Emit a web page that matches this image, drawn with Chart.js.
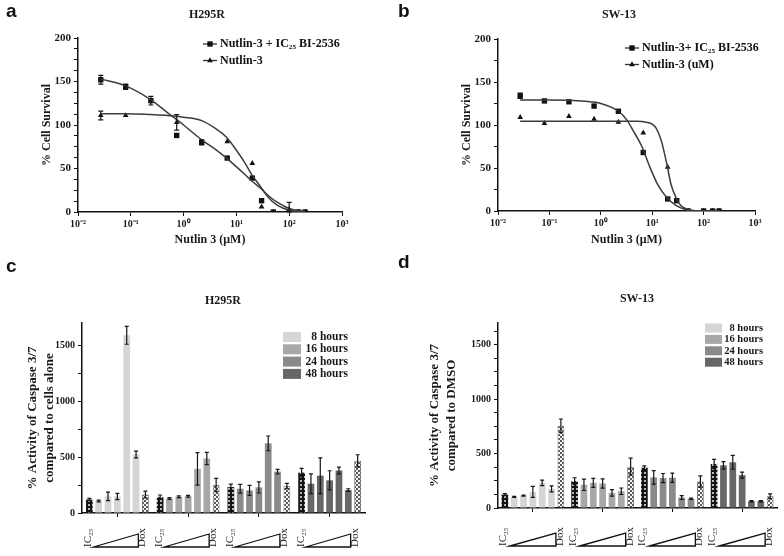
<!DOCTYPE html>
<html>
<head>
<meta charset="utf-8">
<title>Nutlin-3 survival and caspase 3/7 activity</title>
<script src="https://cdn.jsdelivr.net/npm/chart.js@4.4.1/dist/chart.umd.min.js"></script>
<style>
  body { margin: 0; background: #fff; }
  #fig { position: relative; width: 784px; height: 556px; overflow: hidden; background: #fff; }
  #fig canvas { position: absolute; }
  .tag { position: absolute; font: bold 19px "Liberation Sans", Arial, sans-serif; line-height: 1; color: #111; }
</style>
</head>
<body>
<div id="fig">
  <canvas id="survH295" width="392" height="260" style="left:0;top:0"></canvas>
  <canvas id="survSW13" width="392" height="260" style="left:392px;top:0"></canvas>
  <canvas id="caspH295" width="392" height="276" style="left:0;top:280px"></canvas>
  <canvas id="caspSW13" width="392" height="276" style="left:392px;top:280px"></canvas>
  <div class="tag" style="left:6px;top:1px">a</div>
  <div class="tag" style="left:398px;top:1px">b</div>
  <div class="tag" style="left:6px;top:256px">c</div>
  <div class="tag" style="left:398px;top:252px">d</div>
</div>
<script>
// concentrations (µM) and log axis ticks
const concentrations = [0.027, 0.08, 0.24, 0.74, 2.2, 6.7, 20, 30, 50, 100, 150, 200];
const decadeTicks = [0.01, 0.1, 1, 10, 100, 1000];
const decadeLabels = ["10⁻²", "10⁻¹", "10⁰", "10¹", "10²", "10³"];

// H295R survival
const h295Combo = [152, 144, 128, 88, 80, 62, 39, 13, 0, 0, 0, 0];
const h295ComboErr = [5, 3, 5, 0, 3, 0, 0, 0, 0, 0, 0, 0];
const h295Nutlin = [111, 111, null, 103, null, 81, 56, 6, 0, 3, 0, 0];
const h295NutlinErr = [5, 0, 0, 9, 0, 0, 0, 0, 0, 8, 0, 0];
const h295FitX = [0.027, 0.08, 0.24, 0.5, 1, 2.2, 4, 6.5, 10, 14, 20, 28, 40, 60, 100, 200];
const h295ComboFit = [153, 145, 129, 114, 100, 83, 72, 62, 52, 44, 35, 28, 19, 11, 4, 0.5];
const h295NutlinFit = [113, 113, 112, 111, 109, 105, 96, 86, 71, 58, 42, 30, 17, 7.5, 2, 0];

// SW-13 survival
const sw13Combo = [134, 128, 127, 122, 116, 68, 14, 12, 0, 0, 0, 0];
const sw13ComboErr = [3, 0, 0, 0, 2, 0, 0, 0, 0, 0, 0, 0];
const sw13Nutlin = [109, 102, 110, 107, 103.5, 91, 51, null, 0, 0, 0, 0];
const sw13NutlinErr = [0, 0, 0, 0, 0, 0, 0, 0, 0, 0, 0, 0];
const sw13ComboFitX = [0.027, 0.1, 0.5, 1, 2.2, 3.2, 4.2, 6.3, 9, 13, 19, 29, 45, 70, 200];
const sw13ComboFit = [129, 129, 127.5, 125, 116, 106, 94, 75, 51, 30, 16, 6.5, 1.5, 0, 0];
const sw13NutlinFitX = [0.027, 1, 5, 8, 10, 12, 15, 17.3, 20, 23, 28.8, 36, 52, 100, 200];
const sw13NutlinFit = [104.5, 104.5, 104.3, 103, 101, 96, 82, 67, 50, 32, 16, 6.5, 1.5, 0, 0];

// y-axis tick marks (labels only on the round values)
const survivalTicksFine = [0, 12.5, 25, 37.5, 50, 62.5, 75, 87.5, 100, 112.5, 125, 137.5, 150, 162.5, 175, 187.5, 200];
const survivalTicks = [0, 25, 50, 75, 100, 125, 150, 175, 200];
const caspaseTicks = [0, 250, 500, 750, 1000, 1250, 1500];
const caspaseTicksFine = [0, 125, 250, 375, 500, 625, 750, 875, 1000, 1125, 1250, 1375, 1500, 1625];

// caspase 3/7 activity: each group = IC25, 5 increasing doses, Dox
const hourLabels = ["8 hours", "16 hours", "24 hours", "48 hours"];
const barSlots = ["IC25", "dose 1", "dose 2", "dose 3", "dose 4", "dose 5", "Dox"];
const timeColors = ["#d5d5d5", "#a8a8a8", "#8a8a8a", "#676767"];

const h295Casp8 = [120, 108, 148, 148, 1590, 524, 166];
const h295Casp16 = [141, 130, 145, 150, 395, 488, 250];
const h295Casp24 = [232, 217, 202, 229, 623, 370, 241];
const h295Casp48 = [361, 262, 334, 292, 380, 205, 467];
const h295Err8 = [10, 8, 38, 28, 80, 30, 30];
const h295Err16 = [20, 8, 8, 8, 145, 55, 60];
const h295Err24 = [27, 40, 45, 50, 66, 21, 24];
const h295Err48 = [38, 88, 160, 86, 30, 12, 54];

const sw13Casp8 = [123, 102, 114, 148, 231, 176, 756];
const sw13Casp16 = [247, 213, 231, 225, 139, 154, 380];
const sw13Casp24 = [370, 281, 275, 278, 96, 86, 244];
const sw13Casp48 = [404, 392, 420, 302, 62, 62, 108];
const sw13Err8 = [10, 5, 5, 50, 25, 28, 62];
const sw13Err16 = [31, 52, 42, 43, 30, 30, 78];
const sw13Err24 = [17, 62, 42, 43, 18, 6, 52];
const sw13Err48 = [43, 34, 63, 27, 5, 5, 22];

const SERIF = '"Liberation Serif", "Times New Roman", serif';
Chart.defaults.font.family = SERIF;
Chart.defaults.color = "#1a1a1a";
Chart.defaults.animation = false;

function makePattern(bg, fg, cells) {
    const c = document.createElement("canvas");
    c.width = 4; c.height = 4;
    const g = c.getContext("2d");
    g.fillStyle = bg; g.fillRect(0, 0, 4, 4);
    g.fillStyle = fg;
    cells.forEach(([x, y]) => g.fillRect(x, y, 2, 2));
    return g.createPattern(c, "repeat");
}
const darkChecker = makePattern("#141414", "#b8b8b8", [[0, 0]]);
const lightChecker = makePattern("#f6f6f6", "#5a5a5a", [[0, 0], [2, 2]]);

// ---- plugins ----
const errorBars = {
    id: "errorBars",
    afterDatasetsDraw(chart) {
        const { ctx } = chart;
        const y = chart.scales.y;
        chart.data.datasets.forEach((ds, i) => {
            if (!ds.errors) return;
            const meta = chart.getDatasetMeta(i);
            ctx.save();
            ctx.strokeStyle = "#161616";
            ctx.lineWidth = 1.2;
            meta.data.forEach((el, j) => {
                const err = ds.errors[j];
                if (!err) return;
                const raw = ds.data[j];
                const v = typeof raw === "object" ? raw.y : raw;
                const top = y.getPixelForValue(v + err);
                const bot = y.getPixelForValue(Math.max(v - err, 0));
                const cap = ds.capWidth || 2.5;
                ctx.beginPath();
                ctx.moveTo(el.x, top); ctx.lineTo(el.x, bot);
                ctx.moveTo(el.x - cap, top); ctx.lineTo(el.x + cap, top);
                ctx.moveTo(el.x - cap, bot); ctx.lineTo(el.x + cap, bot);
                ctx.stroke();
            });
            ctx.restore();
        });
    }
};

const panelText = {
    id: "panelText",
    afterDraw(chart, args, opts) {
        const { ctx } = chart;
        ctx.save();
        ctx.fillStyle = "#1a1a1a";
        ctx.textAlign = "center";
        ctx.textBaseline = "middle";
        ctx.font = "bold 12px " + SERIF;
        ctx.fillText(opts.text, opts.x, opts.y);
        ctx.restore();
    }
};

const curveLegend = {
    id: "curveLegend",
    afterDraw(chart, args, opts) {
        if (!opts.items) return;
        const { ctx } = chart;
        ctx.save();
        opts.items.forEach((it, k) => {
            const y = opts.y + k * opts.gap;
            ctx.strokeStyle = "#333"; ctx.lineWidth = 1.3;
            ctx.beginPath(); ctx.moveTo(opts.x - 7, y); ctx.lineTo(opts.x + 7, y); ctx.stroke();
            ctx.fillStyle = "#111";
            Chart.helpers.drawPoint(ctx, { pointStyle: it.style, radius: it.radius, rotation: 0, borderWidth: 0 }, opts.x, y);
            ctx.font = "bold 12px " + SERIF;
            ctx.textAlign = "left"; ctx.textBaseline = "middle";
            ctx.fillText(it.label, opts.textX, y);
        });
        ctx.restore();
    }
};

const boxLegend = {
    id: "boxLegend",
    afterDraw(chart, args, opts) {
        if (!opts.labels) return;
        const { ctx } = chart;
        ctx.save();
        opts.labels.forEach((lab, k) => {
            const y = opts.y + k * opts.gap;
            ctx.fillStyle = opts.colors[k];
            ctx.fillRect(opts.x, y - opts.boxH / 2, opts.boxW, opts.boxH);
            ctx.fillStyle = "#1a1a1a";
            ctx.font = "bold " + opts.fontSize + "px " + SERIF;
            ctx.textAlign = "right"; ctx.textBaseline = "middle";
            ctx.fillText(lab, opts.textRight, y);
        });
        ctx.restore();
    }
};

const doseWedges = {
    id: "doseWedges",
    afterDraw(chart, args, opts) {
        if (!opts.base) return;
        const { ctx } = chart;
        const x = chart.scales.x;
        const axisY = chart.chartArea.bottom;
        const baseY = axisY + opts.base;
        ctx.save();
        chart.data.labels.forEach((_, i) => {
            const cx = x.getPixelForValue(i);
            ctx.strokeStyle = "#111"; ctx.lineWidth = 1.3;
            ctx.beginPath();
            ctx.moveTo(cx + opts.left, baseY);
            ctx.lineTo(cx + opts.right, baseY - opts.rise);
            ctx.lineTo(cx + opts.right, baseY);
            ctx.closePath();
            ctx.stroke();
            ctx.fillStyle = "#1a1a1a";
            ctx.font = "11px " + SERIF;
            ctx.textAlign = "left"; ctx.textBaseline = "middle";
            [[opts.ic, "IC₂₅"], [opts.dox, "Dox"]].forEach(([dx, t]) => {
                ctx.save();
                ctx.translate(cx + dx, baseY);
                ctx.rotate(-Math.PI / 2);
                ctx.fillText(t, 0, 0);
                ctx.restore();
            });
        });
        ctx.restore();
    }
};

// ---- survival charts ----
function points(xs, ys) {
    const pts = [];
    xs.forEach((x, i) => { if (ys[i] !== null) pts.push({ x, y: ys[i] }); });
    return pts;
}
function errorsFor(ys, errs) {
    return errs.filter((e, i) => ys[i] !== null);
}
function fitLine(xs, ys) {
    return {
        type: "line", data: points(xs, ys), borderColor: "#3c3c3c", borderWidth: 1.5,
        pointRadius: 0, cubicInterpolationMode: "monotone", fill: false
    };
}
function markers(ys, errs, style, r) {
    return {
        data: points(concentrations, ys), errors: errorsFor(ys, errs),
        pointStyle: style, pointRadius: r, backgroundColor: "#111", borderWidth: 0
    };
}

function axisLine() {
    return { display: true, color: "#111", width: 1.5 };
}
function tickGrid() {
    return { drawOnChartArea: false, drawTicks: true, tickLength: 4, color: "#111", lineWidth: 1 };
}
function fixedTicks(values) {
    return s => { s.ticks = values.map(v => ({ value: v })); };
}

function survivalChart(id, c) {
    return new Chart(document.getElementById(id), {
        type: "scatter",
        data: {
            datasets: [
                fitLine(c.comboFitX, c.comboFit),
                fitLine(c.nutlinFitX, c.nutlinFit),
                markers(c.combo, c.comboErr, "rect", 3.8),
                markers(c.nutlin, c.nutlinErr, "triangle", 3.3)
            ]
        },
        options: {
            responsive: false,
            devicePixelRatio: 1,
            layout: { padding: { top: c.top, right: c.right, left: 0, bottom: 0 } },
            plugins: {
                legend: { display: false },
                tooltip: { enabled: false },
                panelText: { text: c.title, x: c.titleX, y: 15 },
                curveLegend: { items: c.legend, x: c.legendX, textX: c.legendX + 10, y: c.legendY, gap: 16.5 }
            },
            scales: {
                x: {
                    type: "logarithmic", min: 0.01, max: 1000,
                    afterBuildTicks: fixedTicks(decadeTicks),
                    afterFit: s => { s.height = c.xHeight; },
                    ticks: { autoSkip: false, maxRotation: 0, font: { size: 10, weight: "bold" }, padding: 2,
                        callback: (v, i) => decadeLabels[i] },
                    grid: tickGrid(), border: axisLine(),
                    title: { display: true, text: "Nutlin 3 (μM)", font: { size: 12, weight: "bold" }, padding: { bottom: 12.8 } }
                },
                y: {
                    min: 0, max: 200,
                    afterBuildTicks: fixedTicks(c.yTicks),
                    afterFit: s => { s.width = c.yWidth; },
                    ticks: { autoSkip: false, font: { size: 11, weight: "bold" }, padding: 3,
                        callback: v => (v % 50 === 0 ? v : "") },
                    grid: tickGrid(), border: axisLine(),
                    title: { display: true, text: "% Cell Survival", font: { size: 12, weight: "bold" }, padding: { top: c.yTitlePad } }
                }
            }
        },
        plugins: [errorBars, panelText, curveLegend]
    });
}

survivalChart("survH295", {
    title: "H295R", titleX: 207, top: 38, right: 50, xHeight: 48, yWidth: 78, yTicks: survivalTicksFine, yTitlePad: 40,
    combo: h295Combo, comboErr: h295ComboErr, nutlin: h295Nutlin, nutlinErr: h295NutlinErr,
    comboFitX: h295FitX, comboFit: h295ComboFit, nutlinFitX: h295FitX, nutlinFit: h295NutlinFit,
    legendX: 210, legendY: 44,
    legend: [{ label: "Nutlin-3 + IC₂₅ BI-2536", style: "rect", radius: 3.8 }, { label: "Nutlin-3", style: "triangle", radius: 3.3 }]
});
survivalChart("survSW13", {
    title: "SW-13", titleX: 227, top: 39, right: 29, xHeight: 49, yWidth: 106, yTicks: survivalTicks, yTitlePad: 68,
    combo: sw13Combo, comboErr: sw13ComboErr, nutlin: sw13Nutlin, nutlinErr: sw13NutlinErr,
    comboFitX: sw13ComboFitX, comboFit: sw13ComboFit, nutlinFitX: sw13NutlinFitX, nutlinFit: sw13NutlinFit,
    legendX: 240, legendY: 48,
    legend: [{ label: "Nutlin-3+ IC₂₅ BI-2536", style: "rect", radius: 3.8 }, { label: "Nutlin-3 (uM)", style: "triangle", radius: 3.3 }]
});

// ---- caspase bar charts ----
function barDatasets(groups, errs, catPct) {
    return barSlots.map((slot, k) => ({
        label: slot,
        data: groups.map(g => g[k]),
        errors: errs.map(e => e[k]),
        backgroundColor: k === 0 ? darkChecker : k === 6 ? lightChecker : timeColors,
        borderColor: k === 6 ? "#555" : "rgba(0,0,0,0)",
        borderWidth: k === 6 ? 0.8 : 0,
        categoryPercentage: catPct,
        barPercentage: 0.72,
        capWidth: 2
    }));
}

function caspaseChart(id, c) {
    return new Chart(document.getElementById(id), {
        type: "bar",
        data: { labels: hourLabels, datasets: barDatasets(c.groups, c.errs, c.catPct) },
        options: {
            responsive: false,
            devicePixelRatio: 1,
            layout: { padding: { top: 43, right: c.right, left: 0, bottom: 0 } },
            plugins: {
                legend: { display: false },
                tooltip: { enabled: false },
                panelText: { text: c.title, x: c.titleX, y: c.titleY },
                boxLegend: c.legend,
                doseWedges: c.wedge
            },
            scales: {
                x: {
                    afterFit: s => { s.height = c.xHeight; },
                    ticks: { display: false },
                    grid: { offset: false, drawOnChartArea: false, drawTicks: true, tickLength: 4, color: "#111" },
                    border: axisLine()
                },
                y: {
                    min: 0, max: 1700,
                    afterBuildTicks: fixedTicks(c.yTicks),
                    afterFit: s => { s.width = c.yWidth; },
                    ticks: { autoSkip: false, font: { size: 10, weight: "bold" }, padding: 3,
                        callback: v => (v % 500 === 0 ? v : "") },
                    grid: tickGrid(), border: axisLine(),
                    title: {
                        display: true, text: c.yTitle, font: { size: 13, weight: "bold", lineHeight: 1.25 },
                        padding: { top: c.yTitlePad }
                    }
                }
            }
        },
        plugins: [errorBars, panelText, boxLegend, doseWedges]
    });
}

caspaseChart("caspH295", {
    title: "H295R", titleX: 223, titleY: 21, right: 27, xHeight: 43, yWidth: 82, yTicks: caspaseTicks, yTitlePad: 25, catPct: 0.924,
    yTitle: ["% Activity of Caspase 3/7", "compared to cells alone"],
    groups: [h295Casp8, h295Casp16, h295Casp24, h295Casp48],
    errs: [h295Err8, h295Err16, h295Err24, h295Err48],
    legend: { labels: hourLabels, colors: timeColors, x: 283, boxW: 18, boxH: 10, textRight: 348, y: 57, gap: 12.3, fontSize: 11.5 },
    wedge: { base: 34, rise: 13, left: -24, right: 21, ic: -29, dox: 25 }
});
caspaseChart("caspSW13", {
    title: "SW-13", titleX: 245, titleY: 19, right: 7, xHeight: 48, yWidth: 106, yTicks: caspaseTicksFine, yTitlePad: 35, catPct: 0.937,
    yTitle: ["% Activity of Caspase 3/7", "compared to DMSO"],
    groups: [sw13Casp8, sw13Casp16, sw13Casp24, sw13Casp48],
    errs: [sw13Err8, sw13Err16, sw13Err24, sw13Err48],
    legend: { labels: hourLabels, colors: timeColors, x: 313, boxW: 17, boxH: 9, textRight: 371, y: 48, gap: 11.4, fontSize: 10.5 },
    wedge: { base: 38, rise: 13, left: -23, right: 23, ic: -30, dox: 27 }
});
</script>
</body>
</html>
